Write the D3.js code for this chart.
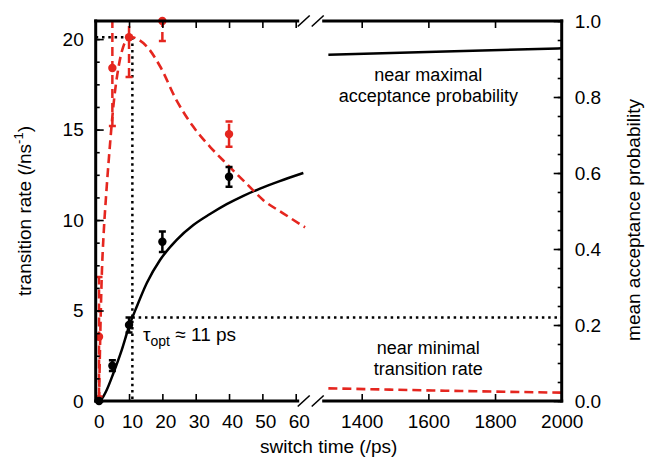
<!DOCTYPE html>
<html>
<head>
<meta charset="utf-8">
<script src="https://cdn.jsdelivr.net/npm/d3@7"></script>
<style>
  body { margin: 0; background: #fff; }
  svg { font-family: "Liberation Sans", Arial, Helvetica, sans-serif; }
</style>
</head>
<body>
<div id="wrapper"></div>
<script>
// measured points (switch time in ps)
const switchTimes = [1, 5, 10, 20, 40];
const rateValues = [3.55, 18.4, 20.1, 21.0, 14.75];   // /ns^-1, left axis
const rateErrors = [3.3, 3.2, 2.2, 1.1, 0.7];
const accValues = [0.0, 0.093, 0.2, 0.419, 0.59];     // probability, right axis
const accErrors = [0, 0.014, 0.02, 0.027, 0.026];

// fitted curves, short switch times
const rateFitX = [1, 1.3, 1.8, 2.4, 3.1, 4.3, 5.3, 6.8, 8.3, 9.8, 11, 12.5, 15.3, 19.3, 24.3, 29.3, 34.3, 39.3, 45.3, 50.3, 56, 62.8];
const rateFitY = [0, 3.0, 6.8, 9.3, 11.3, 14.2, 16.3, 18.4, 19.6, 20.05, 20.1, 20.0, 19.6, 18.5, 16.6, 15.15, 14.05, 13.1, 12.0, 11.1, 10.4, 9.6];
const accFitX = [1, 2, 3.3, 5.3, 7.8, 10, 12.3, 15.3, 19.3, 24.3, 29.3, 34.3, 39.3, 44.3, 49.3, 55, 62.3];
const accFitY = [0, 0.008, 0.029, 0.073, 0.134, 0.196, 0.248, 0.31, 0.371, 0.424, 0.463, 0.492, 0.518, 0.54, 0.559, 0.578, 0.60];

// long switch times
const longX = [1300, 1650, 2000];
const rateLongY = [0.70, 0.57, 0.46];
const accLongY = [0.911, 0.920, 0.928];

// optimum
const tauOpt = 11;
const rateOpt = 20.1;
const accOpt = 0.22;

// ticks
const leftTicks = [0, 5, 10, 15, 20];
const leftMinor = d3.range(0, 21.01, 1.25);
const rightTicks = [0, 0.2, 0.4, 0.6, 0.8, 1.0];
const rightMinor = d3.range(0, 1.001, 0.05);
const shortTicks = [0, 10, 20, 30, 40, 50, 60];
const longTicks = [1400, 1600, 1800, 2000];

const red = "#e5261f";
const fontSize = 19;

let dimensions = {
  width: 646,
  height: 464,
  left: 95.7,
  right: 561.7,
  top: 21,
  bottom: 401
};

const svg = d3.select("#wrapper").append("svg")
  .attr("width", dimensions.width)
  .attr("height", dimensions.height);

// scales
const xL = d3.scaleLinear().domain([0, 61]).range([dimensions.left, dimensions.left + 61 * 10 / 3]);
const xR = d3.scaleLinear().domain([1282, 2000]).range([dimensions.right - 718 / 3, dimensions.right]);
const yL = d3.scaleLinear().domain([0, 21]).range([dimensions.bottom, dimensions.top]);
const yR = d3.scaleLinear().domain([0, 1]).range([dimensions.bottom, dimensions.top]);

svg.append("clipPath").attr("id", "plotClip")
  .append("rect")
  .attr("x", dimensions.left).attr("y", dimensions.top)
  .attr("width", dimensions.right - dimensions.left)
  .attr("height", dimensions.bottom - dimensions.top);

const plot = svg.append("g").attr("clip-path", "url(#plotClip)");

// dotted guide lines
function dotted(points) {
  plot.append("path")
    .attr("d", d3.line()(points))
    .attr("stroke", "black").attr("stroke-width", 2.5)
    .attr("stroke-dasharray", "2.5,3.8").attr("fill", "none");
}
dotted([[xL(0), yL(rateOpt)], [xL(tauOpt), yL(rateOpt)]]);
dotted([[xL(tauOpt), yL(rateOpt)], [xL(tauOpt), yL(0)]]);
dotted([[xL(tauOpt), yR(accOpt)], [dimensions.right, yR(accOpt)]]);

// curves
const lineL = (ys, yScale) => d3.line()
  .x(d => xL(d))
  .y((d, i) => yScale(ys[i]))
  .curve(d3.curveMonotoneX);
const lineR = (ys, yScale) => d3.line()
  .x(d => xR(d))
  .y((d, i) => yScale(ys[i]))
  .curve(d3.curveMonotoneX);

plot.append("path")
  .attr("d", lineL(accFitY, yR)(accFitX))
  .attr("stroke", "black").attr("stroke-width", 2.5).attr("fill", "none");
plot.append("path")
  .attr("d", lineR(accLongY, yR)(longX))
  .attr("stroke", "black").attr("stroke-width", 2.5).attr("fill", "none");

plot.append("path")
  .attr("d", lineL(rateFitY, yL)(rateFitX))
  .attr("stroke", red).attr("stroke-width", 2.6).attr("stroke-dasharray", "9,5").attr("fill", "none");
plot.append("path")
  .attr("d", lineR(rateLongY, yL)(longX))
  .attr("stroke", red).attr("stroke-width", 2.6).attr("stroke-dasharray", "9,5").attr("fill", "none");

// error bars
function errorBars(values, errors, yScale, color, dash) {
  switchTimes.forEach((t, i) => {
    if (errors[i] === 0) return;
    const x = xL(t);
    const y0 = yScale(values[i] - errors[i]);
    const y1 = yScale(values[i] + errors[i]);
    const g = plot.append("g").attr("stroke", color).attr("stroke-width", 2.5).attr("fill", "none");
    g.append("line").attr("x1", x).attr("x2", x).attr("y1", y0).attr("y2", y1)
      .attr("stroke-dasharray", dash);
    g.append("line").attr("x1", x - 3.5).attr("x2", x + 3.5).attr("y1", y0).attr("y2", y0);
    g.append("line").attr("x1", x - 3.5).attr("x2", x + 3.5).attr("y1", y1).attr("y2", y1);
  });
}
errorBars(accValues, accErrors, yR, "black", null);
errorBars(rateValues, rateErrors, yL, red, "9,5");

// points
svg.append("g").selectAll("circle")
  .data(switchTimes)
  .join("circle")
  .attr("cx", d => xL(d))
  .attr("cy", (d, i) => yL(rateValues[i]))
  .attr("r", 4.2)
  .attr("fill", red);
svg.append("g").selectAll("circle")
  .data(switchTimes)
  .join("circle")
  .attr("cx", d => xL(d))
  .attr("cy", (d, i) => yR(accValues[i]))
  .attr("r", 4.2)
  .attr("fill", "black");

// axes (ticks only, frame drawn after)
function styleAxis(g) {
  g.select(".domain").remove();
  g.attr("font-size", fontSize).attr("font-family", null);
  g.selectAll("line").attr("stroke-width", 1.6);
  g.selectAll("text").attr("fill", "black");
}

svg.append("g").attr("transform", `translate(0,${dimensions.bottom})`)
  .call(d3.axisBottom(xL).tickValues(shortTicks).tickSizeInner(-7).tickSizeOuter(0).tickPadding(13.5))
  .call(styleAxis)
  .call(g => g.selectAll("text").attr("dx", 3));
svg.append("g").attr("transform", `translate(0,${dimensions.bottom})`)
  .call(d3.axisBottom(xR).tickValues(longTicks).tickSizeInner(-7).tickSizeOuter(0).tickPadding(13.5).tickFormat(d3.format("d")))
  .call(styleAxis);
svg.append("g").attr("transform", `translate(0,${dimensions.top})`)
  .call(d3.axisTop(xL).tickValues(shortTicks.slice(1)).tickSizeInner(-7).tickSizeOuter(0).tickFormat(""))
  .call(styleAxis);
svg.append("g").attr("transform", `translate(0,${dimensions.top})`)
  .call(d3.axisTop(xR).tickValues(longTicks.slice(0, 3)).tickSizeInner(-7).tickSizeOuter(0).tickFormat(""))
  .call(styleAxis);

svg.append("g").attr("transform", `translate(${dimensions.left},0)`)
  .call(d3.axisLeft(yL).tickValues(leftTicks).tickSizeInner(-8).tickSizeOuter(0).tickPadding(12))
  .call(styleAxis);
svg.append("g").attr("transform", `translate(${dimensions.left},0)`)
  .call(d3.axisLeft(yL).tickValues(leftMinor).tickSizeInner(-4).tickSizeOuter(0).tickFormat(""))
  .call(styleAxis);
svg.append("g").attr("transform", `translate(${dimensions.right},0)`)
  .call(d3.axisRight(yR).tickValues(rightTicks).tickSizeInner(-8).tickSizeOuter(0).tickPadding(13).tickFormat(d3.format(".1f")))
  .call(styleAxis);
svg.append("g").attr("transform", `translate(${dimensions.right},0)`)
  .call(d3.axisRight(yR).tickValues(rightMinor).tickSizeInner(-4).tickSizeOuter(0).tickFormat(""))
  .call(styleAxis);

// frame with broken x axis
const breakX = (xL(61) + xR(1282)) / 2;
const s1 = breakX - 7, s2 = breakX + 7;
const frame = svg.append("g").attr("stroke", "black").attr("fill", "none").attr("stroke-width", 3)
  .attr("stroke-linecap", "square");
frame.append("line").attr("x1", dimensions.left).attr("x2", dimensions.left).attr("y1", dimensions.top).attr("y2", dimensions.bottom);
frame.append("line").attr("x1", dimensions.right).attr("x2", dimensions.right).attr("y1", dimensions.top).attr("y2", dimensions.bottom);
[dimensions.top, dimensions.bottom].forEach(y => {
  frame.append("line").attr("x1", dimensions.left).attr("x2", s1 - 6).attr("y1", y).attr("y2", y);
  frame.append("line").attr("x1", s2 + 6).attr("x2", dimensions.right).attr("y1", y).attr("y2", y);
  [s1, s2].forEach(sx => {
    frame.append("line").attr("stroke-width", 1.6).attr("stroke-linecap", "butt")
      .attr("x1", sx - 6).attr("y1", y + 5.5).attr("x2", sx + 6).attr("y2", y - 5.5);
  });
});

// labels
svg.append("text")
  .attr("x", (dimensions.left + dimensions.right) / 2).attr("y", 453)
  .attr("text-anchor", "middle").attr("font-size", fontSize)
  .text("switch time (/ps)");

const yLabel = svg.append("text")
  .attr("transform", "translate(31,211) rotate(-90)")
  .attr("text-anchor", "middle").attr("font-size", fontSize);
yLabel.append("tspan").text("transition rate (/ns");
yLabel.append("tspan").attr("font-size", 13).attr("dy", -8).text("-1");
yLabel.append("tspan").attr("dy", 8).text(")");

svg.append("text")
  .attr("transform", "translate(640,220) rotate(-90)")
  .attr("text-anchor", "middle").attr("font-size", fontSize)
  .text("mean acceptance probability");

const tau = svg.append("text").attr("x", 143).attr("y", 341).attr("font-size", fontSize);
tau.append("tspan").text("τ");
tau.append("tspan").attr("font-size", 14).attr("dy", 5).text("opt");
tau.append("tspan").attr("dy", -5).text(" ≈ 11 ps");

// two-line annotations
const annX = xR(1600);
function note(lines, y) {
  lines.forEach((s, i) => {
    svg.append("text").attr("x", annX).attr("y", y + i * 21)
      .attr("text-anchor", "middle").attr("font-size", 18).text(s);
  });
}
note(["near maximal", "acceptance probability"], 81);
note(["near minimal", "transition rate"], 354);
</script>
</body>
</html>
